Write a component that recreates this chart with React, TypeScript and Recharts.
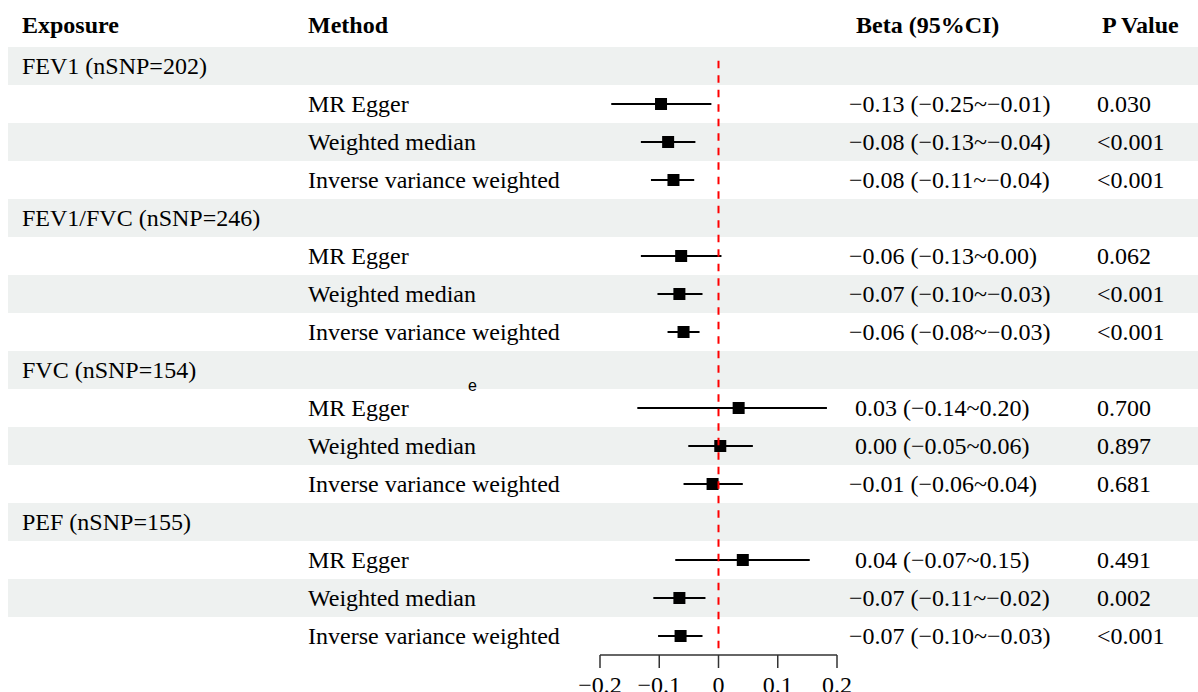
import React from 'react';
import { ComposedChart, Scatter, XAxis, YAxis, ReferenceLine, ReferenceArea, ErrorBar } from 'recharts';

const exposures = ['FEV1 (nSNP=202)', 'FEV1/FVC (nSNP=246)', 'FVC (nSNP=154)', 'PEF (nSNP=155)'];
const methods = ['MR Egger', 'Weighted median', 'Inverse variance weighted'];

// plotted estimates and CI bounds
const estimates = [
  [-0.097, -0.085, -0.076],
  [-0.063, -0.066, -0.059],
  [0.034, 0.003, -0.01],
  [0.041, -0.066, -0.064],
];
const lowers = [
  [-0.181, -0.131, -0.114],
  [-0.131, -0.103, -0.086],
  [-0.137, -0.051, -0.059],
  [-0.073, -0.11, -0.102],
];
const uppers = [
  [-0.012, -0.039, -0.041],
  [0.005, -0.027, -0.032],
  [0.183, 0.058, 0.041],
  [0.154, -0.022, -0.027],
];

const betaLabels = [
  ['−0.13 (−0.25~−0.01)', '−0.08 (−0.13~−0.04)', '−0.08 (−0.11~−0.04)'],
  ['−0.06 (−0.13~0.00)', '−0.07 (−0.10~−0.03)', '−0.06 (−0.08~−0.03)'],
  [' 0.03 (−0.14~0.20)', ' 0.00 (−0.05~0.06)', '−0.01 (−0.06~0.04)'],
  [' 0.04 (−0.07~0.15)', '−0.07 (−0.11~−0.02)', '−0.07 (−0.10~−0.03)'],
];
const pLabels = [
  ['0.030', '<0.001', '<0.001'],
  ['0.062', '<0.001', '<0.001'],
  ['0.700', '0.897', '0.681'],
  ['0.491', '0.002', '<0.001'],
];

const headers = ['Exposure', 'Method', 'Beta (95%CI)', 'P Value'];
const xTicks = [-0.2, -0.1, 0, 0.1, 0.2];

const W = 1198;
const H = 692;
const TOP = 9;
const AXIS_H = 37;
const FONT = "'Liberation Serif', 'Times New Roman', serif";

type Row = {
  x: number;
  y: number;
  idx: number;
  kind: 'header' | 'exposure' | 'method';
  exposure?: string;
  method?: string;
  beta?: string;
  p?: string;
};

const tableRows: Row[] = [{ x: 0, y: -0.5, idx: -1, kind: 'header' }];
const points: { x: number; y: number; err: [number, number] }[] = [];
exposures.forEach((ex, k) => {
  const base = k * 4;
  tableRows.push({ x: 0, y: base + 0.5, idx: base, kind: 'exposure', exposure: ex });
  methods.forEach((m, j) => {
    const i = base + 1 + j;
    tableRows.push({ x: 0, y: i + 0.5, idx: i, kind: 'method', method: m, beta: betaLabels[k][j], p: pLabels[k][j] });
    const est = estimates[k][j];
    points.push({ x: est, y: i + 0.5, err: [est - lowers[k][j], uppers[k][j] - est] });
  });
});
const stripeRows = tableRows.filter((r) => r.idx >= 0 && r.idx % 2 === 0).map((r) => r.idx);

const txt = { fontFamily: FONT, fontSize: 24, fill: '#000' };

const TableRowShape = (props: any) => {
  const { cy, payload } = props;
  const r = payload as Row;
  const base = cy + 8;
  return (
    <g>
      {r.kind === 'header' && (
        <g style={{ fontWeight: 'bold' }}>
          <text x={22} y={base - 3} {...txt}>{headers[0]}</text>
          <text x={308} y={base - 3} {...txt}>{headers[1]}</text>
          <text x={856} y={base - 3} {...txt}>{headers[2]}</text>
          <text x={1102} y={base - 3} {...txt}>{headers[3]}</text>
        </g>
      )}
      {r.kind === 'exposure' && <text x={22} y={base} {...txt}>{r.exposure}</text>}
      {r.kind === 'method' && (
        <g>
          <text x={308} y={base} {...txt}>{r.method}</text>
          <text x={849} y={base} {...txt} style={{ whiteSpace: 'pre' }}>{r.beta}</text>
          <text x={1097} y={base} {...txt}>{r.p}</text>
        </g>
      )}
    </g>
  );
};

// full-width stripe: keep the row's y/height from the scale, stretch horizontally
const StripeShape = (props: any) => {
  const { y, height } = props;
  return <rect x={8} y={y} width={W - 8} height={height} fill="#eef1f0" />;
};

const SquareShape = (props: any) => {
  const { cx, cy } = props;
  return <rect x={cx - 6} y={cy - 6} width={12} height={12} fill="#000" />;
};

const fmt = (v: number) => (v === 0 ? '0' : String(v).replace('-', '−'));

export default function App() {
  return (
    <div style={{ position: 'absolute', left: 0, top: 0, width: W, height: H, background: '#fff' }}>
      <ComposedChart width={W} height={H} margin={{ top: TOP, right: 361, bottom: 0, left: 600 }}>
        {stripeRows.map((i) => (
          <ReferenceArea
            key={i}
            y1={i}
            y2={i + 1}
            ifOverflow="visible"
            shape={StripeShape}
            zIndex={-50}
          />
        ))}
        <XAxis
          type="number"
          dataKey="x"
          domain={[-0.2, 0.2]}
          ticks={xTicks}
          tickFormatter={fmt}
          height={AXIS_H}
          tickSize={13}
          tickMargin={8}
          axisLine={{ stroke: '#333', strokeWidth: 1.5 }}
          tickLine={{ stroke: '#333', strokeWidth: 1.5 }}
          tick={{ fill: '#000', fontSize: 24, fontFamily: FONT }}
          interval={0}
        />
        <YAxis type="number" dataKey="y" domain={[-1, 16]} reversed hide />
        <Scatter data={tableRows} shape={TableRowShape} isAnimationActive={false} legendType="none" />
        <Scatter data={points} shape={SquareShape} isAnimationActive={false} legendType="none">
          <ErrorBar dataKey="err" direction="x" width={0} stroke="#000" strokeWidth={2} isAnimationActive={false} />
        </Scatter>
        <ReferenceLine
          segment={[{ x: 0, y: 0.36 }, { x: 0, y: 16 }]}
          stroke="#ff0000"
          strokeWidth={2}
          strokeDasharray="7.5 7"
          zIndex={2500}
        />
      </ComposedChart>
      <span
        style={{ position: 'absolute', left: 468, top: 377, fontFamily: 'Arial, sans-serif', fontSize: 16, lineHeight: '18px', color: '#000' }}
      >
        e
      </span>
    </div>
  );
}
